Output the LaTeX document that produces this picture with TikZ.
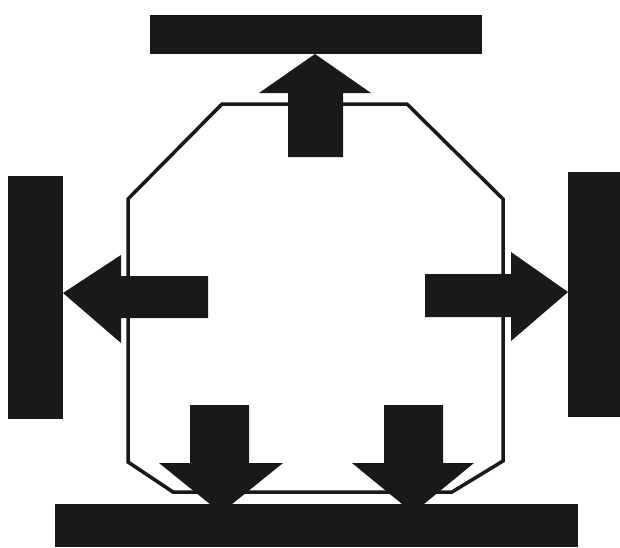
\documentclass[tikz,border=0pt]{standalone}
\begin{document}
\begin{tikzpicture}[x=1pt,y=-1pt,
  solid/.style={fill=black!90,draw=none},
  outline/.style={draw=black!90,line width=3.5pt,line join=miter}]
\useasboundingbox[fill=white] (0,0) rectangle (620,547);
% octagon outline
\draw[outline] (222,104) -- (407,104) -- (503,199) -- (503,461) -- (452,492)
  -- (173,492) -- (128,462) -- (128,199) -- cycle;
% bars
\fill[solid] (150,15) rectangle (482,54);
\fill[solid] (8,176) rectangle (63,419);
\fill[solid] (568,172) rectangle (620,417);
% arrows
% up
\fill[solid] (288,157) -- (288,93) -- (259,93) -- (315,54) -- (371,93) -- (343,93) -- (343,157) -- cycle;
% left
\fill[solid] (208,276) -- (121,276) -- (121,255) -- (63,293) -- (121,343) -- (121,318) -- (208,318) -- cycle;
% right
\fill[solid] (425,274) -- (511,274) -- (511,252) -- (568,292) -- (511,341) -- (511,317) -- (425,317) -- cycle;
% down left
\fill[solid] (190,405) -- (249,405) -- (249,463) -- (283,463) -- (221,513) -- (159,463) -- (190,463) -- cycle;
% down right
\fill[solid] (384,405) -- (443,405) -- (443,463) -- (474,463) -- (413,513) -- (352,463) -- (384,463) -- cycle;
% bottom bar
\fill[solid] (55,504) rectangle (578,547);
\end{tikzpicture}
\end{document}
